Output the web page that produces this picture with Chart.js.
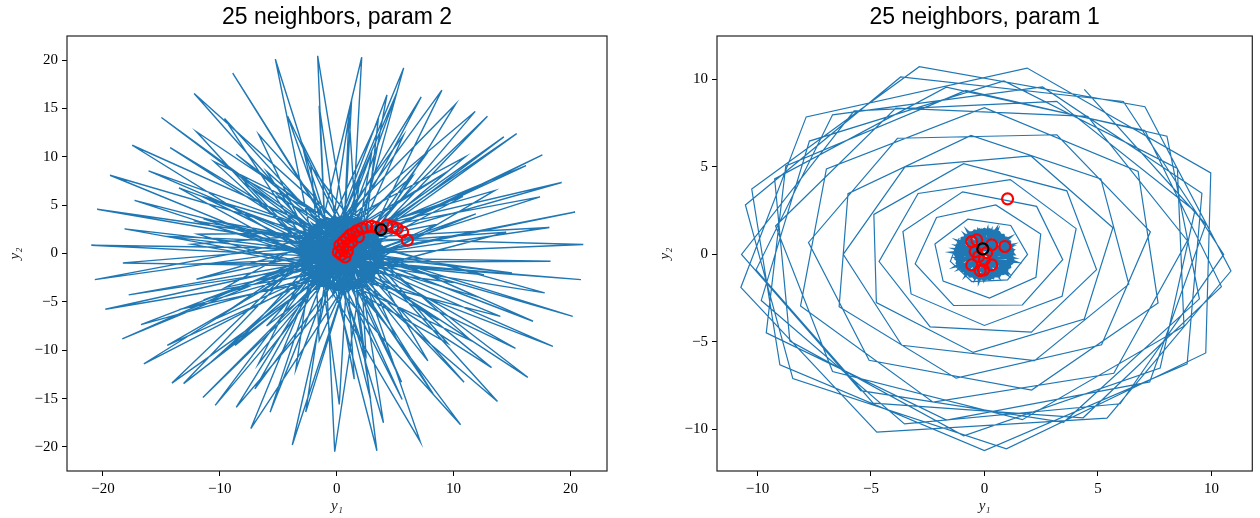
<!DOCTYPE html>
<html>
<head>
<meta charset="utf-8">
<script src="https://cdn.jsdelivr.net/npm/chart.js@4/dist/chart.umd.min.js"></script>
<style>
  html, body { margin: 0; padding: 0; background: #fff; }
  #wrap { position: relative; width: 1260px; height: 518px; overflow: hidden; }
  canvas { position: absolute; top: 0; }
</style>
</head>
<body>
<div id="wrap">
  <canvas id="left" width="630" height="518" style="left:0px"></canvas>
  <canvas id="right" width="610" height="518" style="left:650px"></canvas>
</div>
<script>
// ---- tick values ----
const leftXTicks = [-20, -10, 0, 10, 20];
const leftYTicks = [-20, -15, -10, -5, 0, 5, 10, 15, 20];
const rightXTicks = [-10, -5, 0, 5, 10];
const rightYTicks = [-10, -5, 0, 5, 10];

// ---- left panel: trajectory points (y1, y2) ----
const leftTips = [
  [-21.0,0.86],[-20.5,4.58],[-19.4,8.1],[-18.15,2.55],[-17.3,5.5],[-17.5,11.2],[-16.1,8.55],[-15.0,14.07],[-14.25,10.96],[-12.2,16.55],
  [-12.0,12.6],[-9.6,13.96],[-8.9,18.65],[-8.6,10.27],[-6.67,12.3],[-5.25,20.1],[-4.2,14.2],[-1.63,20.45],[-1.5,15.3],[-7.9,7.3],
  [-12.25,3.4],[-11.4,3.6],[-11.5,5.9],[-8.2,7.9],[-11.9,2.0],[-12.4,0.95],
  [2.14,20.3],[5.73,19.2],[1.28,16.0],[1.05,14.4],[4.3,16.4],[5.1,16.5],[7.23,16.2],[9.0,16.9],[10.17,15.45],[11.85,14.7],
  [12.9,14.2],[14.3,12.07],[15.4,12.4],[17.6,10.2],[16.2,9.1],[19.25,7.35],[17.4,5.86],[20.4,4.3],[18.2,2.7],[21.1,0.93],
  [5.7,12.2],[7.8,10.5],[10.8,5.9],[11.9,4.1],[3.55,13.8],
  [-20.7,-2.7],[-18.3,-0.97],[-17.8,-4.28],[-19.8,-5.76],[-16.75,-7.35],[-18.35,-8.83],[-16.5,-11.4],[-14.1,-13.4],[-13.1,-13.45],[-11.45,-14.9],
  [-10.4,-15.7],[-8.6,-15.9],[-7.35,-18.1],[-5.7,-16.4],[-3.8,-19.8],[-2.65,-16.4],[-0.17,-20.5],[-10.25,-6.7],[-8.7,-9.5],[-6.7,-11.4],
  [-12.0,-2.66],[-11.4,-4.8],[-12.6,-1.1],
  [3.44,-20.4],[7.15,-19.45],[10.6,-17.7],[13.76,-15.3],[16.35,-12.8],[18.5,-9.6],[15.3,-9.8],[20.2,-6.5],[16.8,-7.0],[17.8,-4.07],
  [20.9,-2.7],[18.3,-0.8],[13.25,-11.8],[10.9,-13.3],[8.25,-14.5],[5.6,-15.1],[2.9,-15.1],[0.22,-15.6],[9.5,-9.3],[7.8,-11.1],
  [5.55,-13.3],[8.7,-6.9],[12.1,-4.5],[12.6,-2.2],
  [-9.5,5.2],[-6.0,8.5],[-3.0,11.5],[-13.5,6.8],[-10.5,9.5],[-2.2,9.0],[-14.8,1.8],[-5.0,6.0],
  [3.0,10.5],[6.5,8.0],[9.5,8.5],[13.5,6.5],[14.5,2.2],[8.5,3.0],[2.0,8.0],[11.0,10.0],
  [-9.5,-3.5],[-13.5,-5.8],[-6.0,-7.5],[-3.5,-12.0],[-1.5,-9.0],[-14.5,-9.5],[-11.0,-11.5],[-7.0,-14.0],
  [2.5,-10.5],[5.0,-8.5],[11.5,-9.0],[14.0,-6.5],[15.0,-2.0],[4.0,-17.5],[1.5,-13.0],[10.0,-3.0]
];
const leftCenters = [
  [0.3,-0.4],[-0.9,0.5],[1.3,0.8],[-0.2,-1.4],[0.8,-0.1],[-1.6,-0.7],[0.4,1.5],[1.9,-0.8],[-0.6,1.0],[0.1,-0.2],
  [1.5,1.7],[-1.2,-1.6],[0.7,0.3],[-0.3,2.0],[2.1,0.4],[-1.9,0.1],[0.5,-1.9],[1.0,1.1],[-0.9,-0.3],[0.2,0.8],
  [1.7,-1.4],[-1.4,1.3],[0.0,-0.9],[2.3,1.0],[-0.5,-2.1],[0.9,2.2],[-2.1,-1.2],[1.2,-0.6],[-0.7,0.2],[0.6,1.3],
  [1.8,0.0],[-1.1,-0.9],[0.3,0.5],[-0.2,1.6],[1.4,-1.8],[-1.7,0.8],[0.8,-1.1],[2.0,1.5],[-0.8,-1.7],[0.4,0.0],
  [1.1,0.6],[-1.3,0.3],[0.0,1.9],[1.6,-0.3],[-0.4,-0.6],[0.9,1.6],[-1.8,-0.2],[0.6,-1.5],[1.3,2.0],[-0.1,-1.1],
  [2.2,-0.6],[-1.0,1.8],[0.5,0.9],[-1.5,-1.3],[1.0,-0.2],[0.2,-1.7],[1.7,1.2],[-0.6,0.6],[0.7,-0.7],[-2.0,0.6],
  [1.4,0.2],[-0.3,-1.3],[0.8,2.4],[1.9,-1.1],[-1.2,0.0],[0.1,1.2],[1.2,-1.4],[-0.9,-2.0],[2.4,0.2],[-0.4,1.4],
  [0.6,-0.3],[-1.6,1.0],[1.5,0.9],[0.0,-0.5],[-0.7,-1.0],[1.1,1.9],[-1.9,-0.9],[0.9,-2.0],[1.8,0.7],[-0.2,0.3],
  [0.4,-1.2],[-1.1,1.5],[2.1,-0.2],[0.3,1.8],[-0.8,-0.5],[1.3,-0.9],[-1.4,-0.4],[0.7,0.7],[1.6,-1.6],[-0.5,1.1],
  [0.2,-2.2],[1.0,0.4],[-1.3,-1.9],[2.0,1.1],[-0.1,0.9],[0.8,-0.4],[-1.7,0.4],[1.2,1.3],
  [0.5,-0.8],[-0.6,-1.5],[1.7,0.3],[-1.0,1.2],[0.3,-2.4],[2.2,1.9],[-1.5,-0.1],[0.9,1.0],[-0.3,-0.2],[1.4,-1.2],
  [-2.2,-0.5],[0.6,2.0],[1.9,-1.8],[-0.8,0.9],[0.1,-1.6],[1.2,0.1],[-1.2,2.1],[2.5,-0.3],[-0.5,-2.4],[0.7,1.7],
  [-1.9,1.4],[1.6,-0.7],[0.0,0.6],[-1.1,-1.3],[2.0,0.8],[-0.2,-0.9],[1.0,2.3],[-1.6,-1.7],[0.4,0.3],[1.8,-0.2],
  [-0.7,1.7],[0.9,-1.6],[0.2,1.0]
];
const leftCore = [
  [3.99,0.00],[-2.38,1.24],[3.08,-2.93],[-0.60,2.72],[0.29,-3.61],[1.97,3.56],[-1.56,-1.85],[3.54,1.14],[-3.46,0.29],[2.99,-1.37],
  [-1.92,2.90],[1.34,-3.19],[0.78,3.74],[-1.06,-2.80],[3.44,2.51],[-2.28,-0.74],[3.82,-0.50],[-2.80,2.00],[1.95,-2.24],[-0.34,3.41],
  [-0.26,-4.01],[1.97,2.56],[-2.58,-2.11],[3.52,0.64],[-3.10,0.79],[2.88,-1.82],[-1.64,3.46],[0.84,-2.88],[1.23,3.52],[-1.83,-3.14],
  [2.67,1.37],[-2.89,-0.42],[4.13,-1.10],[-1.87,1.93],[2.08,-3.32],[0.12,3.32],[-0.70,-3.59],[2.39,2.40],[-3.08,-1.76],[3.16,0.16],
  [-2.85,1.24],[3.14,-2.66],[-0.68,2.53],[0.46,-3.48],[1.84,3.78],[-1.64,-2.16],[3.74,1.43],[-2.78,0.05],
  [3.99,0.00],[1.61,3.59],[-2.36,2.46],[-2.72,-1.93],[1.04,-3.78],[3.93,-0.66],[2.20,3.32],[-1.92,2.93],[-2.97,-1.32],[0.40,-3.83],
  [3.77,-1.32],[2.72,2.93],[-1.40,3.32],[-3.13,-0.66],[-0.24,-3.78],[3.52,-1.93],[3.16,2.46],[-0.81,3.59],[-3.23,0.00],[-0.81,-3.59],
  [3.16,-2.46],[3.52,1.93],[-0.24,3.78],[-3.13,0.66],[-1.40,-3.32],[2.72,-2.93],[3.77,1.32],[0.40,3.83],[-2.97,1.32],[-1.92,-2.93],
  [2.20,-3.32],[3.93,0.66],[1.04,3.78],[-2.72,1.93],[-2.36,-2.46],[1.61,-3.59]
];
const leftNeighbors = [
  [0.71,-0.35],[0.14,0.17],[0.28,0.86],[0.56,1.2],[0.85,1.55],[1.14,1.9],[1.42,2.07],[1.71,2.34],[2.14,2.59],[2.56,2.75],
  [2.99,2.82],[4.27,2.93],[4.79,2.75],[5.18,2.59],[5.64,2.23],[6.04,1.38],[0.99,0.86],[1.28,1.2],[1.85,1.72],[0.4,-0.1],
  [0.5,0.5],[3.4,2.7],[0.9,0.2]
];
const leftQuery = [[3.79,2.48]];

// ---- right panel: trajectory points (y1, y2) ----
const rightCore = [
  [1.30,0.00],[-1.01,0.47],[0.97,-1.11],[-0.36,1.03],[-0.04,-1.37],[0.57,1.35],[-0.71,-0.70],[1.14,0.43],[-1.40,0.11],[0.94,-0.52],
  [-0.84,1.10],[0.34,-1.21],[0.14,1.42],[-0.53,-1.06],[1.10,0.95],[-0.97,-0.28],[1.24,-0.19],[-1.16,0.76],[0.56,-0.85],[-0.27,1.29],
  [-0.24,-1.52],[0.57,0.97],[-1.08,-0.80],[1.13,0.24],[-1.27,0.30],[0.90,-0.69],[-0.74,1.31],[0.16,-1.09],[0.30,1.33],[-0.81,-1.19],
  [0.82,0.52],[-1.19,-0.16],[1.35,-0.42],[-0.82,0.73],[0.61,-1.26],[-0.10,1.26],[-0.40,-1.36],[0.72,0.91],[-1.26,-0.67],[1.00,0.06],
  [-1.18,0.47],[0.99,-1.01],[-0.39,0.96],[0.02,-1.32],[0.52,1.43],[-0.74,-0.82],[1.21,0.54],[-1.15,0.02],
  [1.30,0.00],[0.44,1.36],[-1.00,0.93],[-1.13,-0.73],[0.23,-1.43],[1.28,-0.25],[0.65,1.26],[-0.84,1.11],[-1.22,-0.50],[0.00,-1.45],
  [1.22,-0.50],[0.84,1.11],[-0.65,1.26],[-1.28,-0.25],[-0.23,-1.43],[1.13,-0.73],[1.00,0.93],[-0.44,1.36],[-1.30,0.00],[-0.44,-1.36],
  [1.00,-0.93],[1.13,0.73],[-0.23,1.43],[-1.28,0.25],[-0.65,-1.26],[0.84,-1.11],[1.22,0.50],[0.00,1.45],[-1.22,0.50],[-0.84,-1.11],
  [0.65,-1.26],[1.28,0.25],[0.23,1.43],[-1.13,0.73],[-1.00,-0.93],[0.44,-1.36]
];
const rightSpiral = [
  [-1.11,0.93],[-1.50,-0.40],[-0.56,-1.55],[1.02,-1.46],
  [1.90,0.00],[1.16,1.65],[-0.73,2.01],[-2.18,0.59],[-1.82,-1.53],[0.22,-2.49],[2.27,-1.31],[2.48,1.16],[0.50,2.82],[-2.11,2.11],
  [-3.05,-0.54],[-1.36,-2.92],[1.67,-2.89],[3.45,-0.30],[2.30,2.74],[-0.96,3.57],[-3.59,1.31],[-3.23,-2.26],[0.00,-4.06],[3.42,-2.40],
  [4.04,1.47],[1.14,4.27],[-2.92,3.48],[-4.64,-0.41],[-2.39,-4.14],[2.07,-4.44],[4.94,-0.87],[3.63,3.63],[-0.92,5.18],[-4.87,2.28],
  [-4.76,-2.75],[-0.49,-5.60],[4.40,-3.69],[5.66,1.52],[2.05,5.62],[-3.50,5.00],[-6.22,0.00],[-3.64,-5.19],[2.21,-6.07],[6.36,-1.70],
  [5.13,4.31],[-0.59,6.79],[-6.01,3.47],[-6.40,-2.99],[-1.25,-7.07],[5.16,-5.16],[7.31,1.29],[3.19,6.83],[-3.83,6.63],[-7.75,0.68],
  [-5.08,-6.05],[2.08,-7.75],[7.65,-2.78],[6.77,4.74],[0.00,8.38],[-6.96,4.88],[-8.10,-2.95],[-2.26,-8.44],[5.70,-6.79],[8.94,0.78],
  [4.55,7.88],[-3.90,8.35],[-9.20,1.62],[-6.69,-6.69],[1.67,-9.44],[8.79,-4.10],[8.50,4.91],[0.86,9.90],[-7.71,6.47],[-9.83,-2.63],
  [-3.52,-9.68],[5.98,-8.53],[10.54,0.00],[6.12,8.73],[-3.69,10.13],[-10.53,2.82],[-8.44,-7.09],[0.97,-11.10],[9.75,-5.63],
  [9.97,4.65],[1.88,10.64],[-7.85,7.85],[-10.73,-1.89],[-4.74,-10.15],[5.40,-9.35],[10.86,-0.95],[7.07,8.43],[-2.87,10.72],[-10.25,3.73],
  [-9.01,-6.31],[0.00,-11.20],[8.93,-6.25],
  [9.58,3.49],[2.56,9.56],[-6.69,7.97],[-10.06,-0.88],[-4.90,-8.49],[4.35,-9.33],[10.44,-1.84],[7.07,7.07],[-1.68,9.55],[-9.24,4.31],
  [-8.57,-4.95],[-0.91,-10.36],[7.74,-6.49],[9.27,2.48],
  [3.18,8.74],[-5.74,8.19],[-10.70,0.00],[-5.45,-7.78],[3.49,-9.59],[9.47,-2.54],[8.04,6.75],[-0.82,9.36],[-8.75,5.05],[-9.61,-4.48],
  [-1.67,-9.46],[7.28,-7.28],[9.75,1.72],[4.40,9.42]
];
const rightNeighbors = [
  [1.02,3.17],[-0.56,0.73],[-0.34,0.83],[0.32,0.54],[0.9,0.45],[-0.56,-0.6],[-0.04,-0.89],[0.32,-0.6],[-0.26,-0.13],[0.0,-0.3],
  [-0.41,0.16],[-0.19,-0.93],[0.1,0.1]
];
const rightQuery = [[-0.07,0.31]];

// ---- helpers ----
const BLUE = '#1f77b4';
const toXY = arr => arr.map(p => ({ x: p[0], y: p[1] }));

// path that returns near the origin between every excursion
function interleave(centers, tips) {
  const path = [];
  tips.forEach((t, i) => { path.push(centers[i]); path.push(t); });
  path.push(centers[tips.length]);
  return path;
}

const minusFmt = v => (v < 0 ? '\u2212' + Math.abs(v) : String(v));

// axes frame on all four sides plus the panel title centred over the plot area
const framePlugin = {
  id: 'frame',
  afterDraw(chart, args, opts) {
    const a = chart.chartArea, ctx = chart.ctx;
    ctx.save();
    ctx.strokeStyle = '#222';
    ctx.lineWidth = 1.2;
    ctx.strokeRect(a.left, a.top, a.right - a.left, a.bottom - a.top);
    ctx.fillStyle = '#000';
    ctx.font = '23px "Liberation Sans"';
    ctx.textAlign = 'center';
    ctx.textBaseline = 'middle';
    ctx.fillText(opts.text, (a.left + a.right) / 2, 18);
    ctx.restore();
  }
};

function axis(min, max, tickValues, titleText, isY, fixedSize) {
  return {
    type: 'linear',
    min: min, max: max,
    position: isY ? 'left' : 'bottom',
    grid: { display: true, drawOnChartArea: false, drawTicks: true, tickLength: 5, color: '#000', lineWidth: 1 },
    border: { display: false },
    afterBuildTicks: s => { s.ticks = tickValues.map(v => ({ value: v })); },
    ticks: {
      color: '#000', padding: 4,
      font: { family: 'Liberation Serif', size: 15 },
      callback: v => minusFmt(v)
    },
    title: {
      display: true, text: titleText, color: '#222',
      font: { family: 'Liberation Serif', size: 15, style: 'italic' },
      padding: isY ? { top: 6, bottom: 0 } : { top: 0, bottom: 3 }
    },
    afterFit: s => { if (isY) s.width = fixedSize; else s.height = fixedSize; }
  };
}

function makeChart(id, cfg) {
  return new Chart(document.getElementById(id), {
    type: 'scatter',
    data: { datasets: cfg.datasets },
    options: {
      responsive: false, animation: false, devicePixelRatio: 1,
      layout: { padding: { left: 0, right: cfg.padRight, top: 36, bottom: 0 } },
      plugins: {
        legend: { display: false }, tooltip: { enabled: false },
        title: { display: false },
        frame: { text: cfg.title }
      },
      scales: {
        x: axis(cfg.xr[0], cfg.xr[1], cfg.xt, 'y\u2081', false, 47),
        y: axis(cfg.yr[0], cfg.yr[1], cfg.yt, 'y\u2082', true, cfg.yw)
      }
    },
    plugins: [framePlugin]
  });
}

function markerSet(points, color, order) {
  return {
    data: toXY(points), showLine: false, order: order,
    pointStyle: 'circle', pointRadius: 5.5, pointHoverRadius: 5.5,
    borderColor: color, backgroundColor: 'rgba(0,0,0,0)', borderWidth: 2.2
  };
}

function lineSet(points, width, order) {
  return {
    data: toXY(points), showLine: true, order: order, tension: 0,
    borderColor: BLUE, borderWidth: width, pointRadius: 0, fill: false
  };
}

makeChart('left', {
  title: '25 neighbors, param 2',
  xr: [-23.08, 23.13], xt: leftXTicks, yr: [-22.49, 22.5], yt: leftYTicks, yw: 67, padRight: 23,
  datasets: [
    markerSet(leftQuery, '#000', 0),
    markerSet(leftNeighbors, '#ff0000', 1),
    lineSet(leftCore, 2.6, 2),
    lineSet(interleave(leftCenters, leftTips), 1.4, 3)
  ]
});

makeChart('right', {
  title: '25 neighbors, param 1',
  xr: [-11.78, 11.8], xt: rightXTicks, yr: [-12.37, 12.47], yt: rightYTicks, yw: 67, padRight: 4,
  datasets: [
    markerSet(rightQuery, '#000', 0),
    markerSet(rightNeighbors, '#ff0000', 1),
    lineSet(rightCore, 2.4, 2),
    lineSet(rightSpiral, 1.2, 3)
  ]
});
</script>
</body>
</html>
